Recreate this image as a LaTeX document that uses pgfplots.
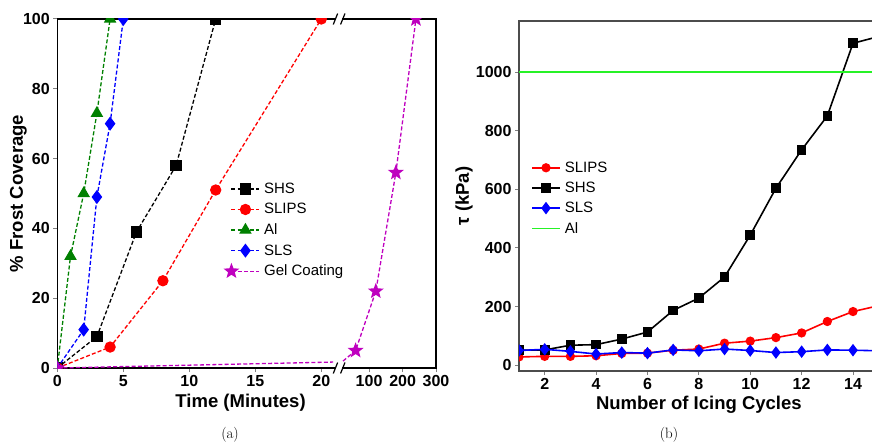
\documentclass[border=0pt]{standalone}
\usepackage{pgfplots}
\pgfplotsset{compat=1.18}
\usepackage{fontspec}
\newfontfamily\arial{Liberation Sans}
\definecolor{mplgreen}{rgb}{0,0.5,0}
\definecolor{mplmag}{rgb}{0.75,0,0.75}
\definecolor{limeg}{rgb}{0.15,0.95,0.15}
\pgfdeclareplotmark{fstar}{%
  \pgfpathmoveto{\pgfpointpolar{90}{\pgfplotmarksize}}%
  \pgfpathlineto{\pgfpointpolar{126}{0.42\pgfplotmarksize}}%
  \pgfpathlineto{\pgfpointpolar{162}{\pgfplotmarksize}}%
  \pgfpathlineto{\pgfpointpolar{198}{0.42\pgfplotmarksize}}%
  \pgfpathlineto{\pgfpointpolar{234}{\pgfplotmarksize}}%
  \pgfpathlineto{\pgfpointpolar{270}{0.42\pgfplotmarksize}}%
  \pgfpathlineto{\pgfpointpolar{306}{\pgfplotmarksize}}%
  \pgfpathlineto{\pgfpointpolar{342}{0.42\pgfplotmarksize}}%
  \pgfpathlineto{\pgfpointpolar{18}{\pgfplotmarksize}}%
  \pgfpathlineto{\pgfpointpolar{54}{0.42\pgfplotmarksize}}%
  \pgfpathclose
  \pgfusepathqfillstroke
}
\newcommand{\labfont}{\arial\bfseries\fontsize{18.5}{18.5}\selectfont}
\begin{document}
\begin{tikzpicture}
\useasboundingbox (0pt,0pt) rectangle (872pt,442pt);
\clip (0pt,0pt) rectangle (872pt,442pt);
\pgfplotsset{
  myax/.style={
    scale only axis, anchor=south west,
    tick align=outside, xtick pos=bottom, ytick pos=left,
    major tick length=4pt,
    tick style={line width=1pt},
    tick label style={font=\arial\bfseries\fontsize{16}{16}\selectfont},
    /pgf/number format/assume math mode=true,
    /pgf/number format/1000 sep={},
    scaled ticks=false,
    legend cell align=left,
    legend style={draw=none, fill=none, font=\arial\fontsize{15}{15}\selectfont,
      anchor=north west, row sep=4.4pt, inner sep=0pt,
      /tikz/every odd column/.append style={column sep=2pt}},
    clip marker paths=true,
  },
  dsh/.style={line width=1.3pt, dash pattern=on 4pt off 2.2pt, mark options={solid}},
  sld/.style={line width=1.6pt, mark options={solid}},
}
% ---------------- panel (a) ----------------
% x positions are display coordinates: minutes on the left segment (0-21.3);
% right segment (after the break): display = 21.08 + 0.02538*minutes
\begin{axis}[myax,
  at={(57.3pt,74pt)}, width=378.7pt, height=349pt,
  xmin=0, xmax=28.69, ymin=0, ymax=100,
  xtick={0,5,10,15,20,23.62,26.16,28.69},
  xticklabels={0,5,10,15,20,100,200,300},
  ytick={0,20,40,60,80,100},
  axis line style={line width=1.3pt},
  xlabel={Time (Minutes)}, ylabel={\% Frost Coverage},
  every axis x label/.style={at={(axis description cs:0.484,-0.1)}, anchor=center, font=\labfont},
  every axis y label/.style={at={(axis description cs:-0.103,0.5)}, rotate=90, anchor=center, font=\labfont},
  legend style={at={(axis description cs:0.443,0.536)}},
  legend image code/.code={\draw[line width=1.3pt, dash pattern=on 4pt off 2.2pt, mark repeat=2,mark phase=2] plot coordinates {(0pt,0pt)(14pt,0pt)(28pt,0pt)};},
]
\addplot[dsh, black, mark=square*, mark size=5pt] coordinates {(0,0)(3,9)(6,39)(9,58)(12,100)};
\addlegendentry{SHS}
\addplot[dsh, red, mark=*, mark size=5pt] coordinates {(0,0)(4,6)(8,25)(12,51)(20,100)};
\addlegendentry{SLIPS}
\addplot[dsh, mplgreen, mark=triangle*, mark size=6pt] coordinates {(0,0)(1,32)(2,50)(3,73)(4,100)};
\addlegendentry{Al}
\addplot[dsh, blue, mark=diamond*, mark size=6pt] coordinates {(0,0)(2,11)(3,49)(4,70)(5,100)};
\addlegendentry{SLS}
\addplot[dsh, mplmag, mark=fstar, mark size=6.5pt, mark indices={1}] coordinates {(0,0)(20.89,1.7)};
\addlegendentry{Gel Coating}
\addplot[dsh, mplmag, mark=fstar, mark size=6.5pt, mark indices={2,3,4,5}, forget plot] coordinates {(21.65,2.0)(22.60,5)(24.13,22)(25.65,56)(27.17,100)};
\coordinate (bb) at (axis cs:21.34,0);
\coordinate (bt) at (axis cs:21.34,100);
\end{axis}
\foreach \c in {bb,bt}{
  \fill[white] (\c) ++(-3.5pt,-2pt) rectangle ++(7pt,4pt);
  \draw[line width=1.2pt] (\c) ++(-5.7pt,-5.5pt) -- ++(4.4pt,11pt);
  \draw[line width=1.2pt] (\c) ++(1.6pt,-5.5pt) -- ++(4.4pt,11pt);
}
\node[anchor=center, font=\fontsize{15}{15}\selectfont] at (230pt,7pt) {(a)};
% ---------------- panel (b) ----------------
\begin{axis}[myax,
  at={(519pt,71pt)}, width=359.7pt, height=350pt,
  xmin=1, xmax=15, ymin=-20, ymax=1175,
  xtick={2,4,6,8,10,12,14}, ytick={0,200,400,600,800,1000},
  axis line style={line width=1.3pt, black!70},
  xlabel={Number of Icing Cycles}, ylabel={τ (kPa)},
  every axis x label/.style={at={(axis description cs:0.5,-0.096)}, anchor=center, font=\labfont},
  every axis y label/.style={at={(axis description cs:-0.153,0.5)}, rotate=90, anchor=center, font=\labfont},
  legend style={at={(axis description cs:0.0334,0.604)}, row sep=4.2pt},
  legend image code/.code={\draw[line width=1.6pt, mark repeat=2,mark phase=2] plot coordinates {(0pt,0pt)(14pt,0pt)(28pt,0pt)};},
]
\addplot[sld, red, mark=*, mark size=3.8pt] coordinates {(1,28)(2,30)(3,30)(4,32)(5,40)(6,41)(7,51)(8,55)(9,75)(10,82)(11,94)(12,110)(13,149)(14,183)(15,203)};
\addlegendentry{SLIPS}
\addplot[sld, black, mark=square*, mark size=4pt] coordinates {(1,51)(2,52)(3,68)(4,70)(5,89)(6,113)(7,187)(8,229)(9,301)(10,444)(11,604)(12,735)(13,851)(14,1099)(15,1122)};
\addlegendentry{SHS}
\addplot[sld, blue, mark=diamond*, mark size=5pt] coordinates {(1,50)(2,54)(3,47)(4,38)(5,43)(6,41)(7,52)(8,49)(9,55)(10,50)(11,43)(12,46)(13,52)(14,51)(15,49)};
\addlegendentry{SLS}
\addplot[sld, limeg, no marks] coordinates {(1,1000)(15,1000)};
\addlegendentry{Al}
\end{axis}
\node[anchor=center, font=\fontsize{15}{15}\selectfont] at (669pt,7pt) {(b)};
\end{tikzpicture}
\end{document}
